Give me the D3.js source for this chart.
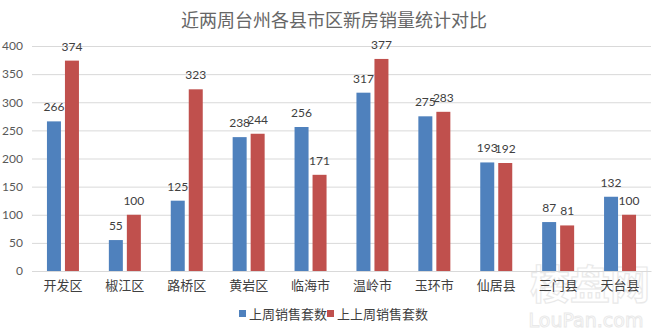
<!DOCTYPE html>
<html>
<head>
<meta charset="utf-8">
<script src="https://cdn.jsdelivr.net/npm/d3@7"></script>
<style>
  body { margin: 0; background: #fff; }
  svg { display: block; }
</style>
</head>
<body>
<svg id="chart" width="659" height="330"></svg>
<script>
// 台州各县市区 近两周新房成交套数
const categories = ["开发区", "椒江区", "路桥区", "黄岩区", "临海市", "温岭市", "玉环市", "仙居县", "三门县", "天台县"];
const lastWeek = [266, 55, 125, 238, 256, 317, 275, 193, 87, 132];
const weekBefore = [374, 100, 323, 244, 171, 377, 283, 192, 81, 100];
const seriesNames = ["上周销售套数", "上上周销售套数"];
const seriesColors = ["#4F81BD", "#C0504D"];
const yTicks = [0, 50, 100, 150, 200, 250, 300, 350, 400];

const svg = d3.select("#chart");
const W = 659, H = 330;
const m = { left: 32, right: 8, top: 46, bottom: 59 };
const numFont = "Lato, 'Noto Sans CJK SC', sans-serif";
const cjkFont = "'Noto Sans CJK SC', sans-serif";

const x = d3.scaleBand().domain(categories).range([m.left, W - m.right]);
const y = d3.scaleLinear().domain([0, 400]).range([H - m.bottom, m.top]);

// title
svg.append("text")
  .attr("x", 334).attr("y", 27)
  .attr("text-anchor", "middle")
  .attr("font-family", cjkFont).attr("font-size", 18)
  .attr("fill", "#666666")
  .text("近两周台州各县市区新房销量统计对比");

// faint site watermark, behind the chart
const wm = svg.append("g").attr("opacity", 0.5);
wm.append("text")
  .attr("x", 590).attr("y", 299).attr("text-anchor", "middle")
  .attr("font-family", cjkFont).attr("font-size", 40).attr("font-weight", "bold")
  .attr("fill", "none").attr("stroke", "#d4d4d4").attr("stroke-width", 1.2)
  .text("楼盘网");
wm.append("text")
  .attr("x", 586).attr("y", 327).attr("text-anchor", "middle")
  .attr("font-family", "'DejaVu Sans', sans-serif").attr("font-size", 19)
  .attr("fill", "none").attr("stroke", "#d4d4d4").attr("stroke-width", 1)
  .text("LouPan.com");

// horizontal gridlines + y labels
const yAxis = d3.axisLeft(y).tickValues(yTicks).tickSize(-(W - m.left - m.right)).tickPadding(9);
const gy = svg.append("g").attr("transform", `translate(${m.left},0)`).call(yAxis);
gy.select(".domain").remove();
gy.selectAll(".tick line").attr("stroke", "#d9d9d9").attr("stroke-width", 1);
gy.selectAll(".tick text")
  .attr("font-family", numFont).attr("font-size", 12).attr("fill", "#595959");

// category axis
const xAxis = d3.axisBottom(x).tickSize(0).tickPadding(10);
const gx = svg.append("g").attr("transform", `translate(0,${H - m.bottom})`).call(xAxis);
gx.select(".domain").attr("stroke", "#d9d9d9");
gx.selectAll(".tick text")
  .attr("font-family", cjkFont).attr("font-size", 13).attr("fill", "#404040");

// bars with value labels
const barW = 14, gap = 4;
const series = [lastWeek, weekBefore];
series.forEach((vals, s) => {
  const g = svg.append("g");
  const xPos = (c) => x(c) + x.bandwidth() / 2 + (s === 0 ? -gap / 2 - barW : gap / 2);
  g.selectAll("rect").data(categories).join("rect")
    .attr("x", (c) => xPos(c))
    .attr("width", barW)
    .attr("y", (c, i) => y(vals[i]))
    .attr("height", (c, i) => y(0) - y(vals[i]))
    .attr("fill", seriesColors[s]);
  g.selectAll("text").data(categories).join("text")
    .attr("x", (c) => xPos(c) + barW / 2)
    .attr("y", (c, i) => y(vals[i]) - 10)
    .attr("text-anchor", "middle")
    .attr("font-family", numFont).attr("font-size", 12).attr("fill", "#404040")
    .text((c, i) => vals[i]);
});

// legend
const legend = svg.append("g");
const legItems = [{ x: 239 }, { x: 327 }];
seriesNames.forEach((name, i) => {
  legend.append("rect")
    .attr("x", legItems[i].x).attr("y", 310).attr("width", 7).attr("height", 7)
    .attr("fill", seriesColors[i]);
  legend.append("text")
    .attr("x", legItems[i].x + 10).attr("y", 319)
    .attr("font-family", cjkFont).attr("font-size", 13).attr("fill", "#404040")
    .text(name);
});
</script>
</body>
</html>
